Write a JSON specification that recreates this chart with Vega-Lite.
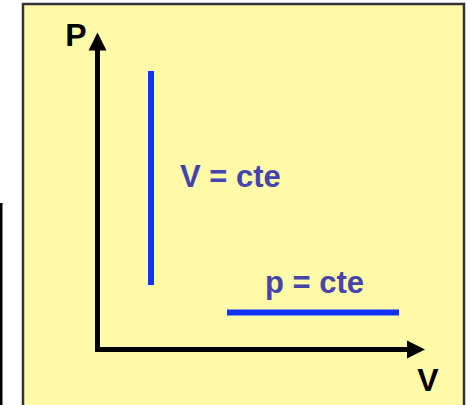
{
  "$schema": "https://vega.github.io/schema/vega-lite/v6.json",
  "width": 469,
  "height": 405,
  "autosize": {"type": "none"},
  "padding": 0,
  "background": "white",
  "config": {"view": {"stroke": null}},
  "encoding": {
    "x": {"type": "quantitative", "scale": {"domain": [0, 469], "nice": false, "zero": false}, "axis": null},
    "y": {"type": "quantitative", "scale": {"domain": [0, 405], "nice": false, "zero": false}, "axis": null}
  },
  "layer": [
    {
      "data": {"values": [{"x": 23, "x2": 464, "y": 401, "y2": -10}]},
      "mark": {"type": "rect", "fill": "#FFFBA8", "stroke": "#333333", "strokeWidth": 2.5, "clip": false},
      "encoding": {"x": {"field": "x"}, "x2": {"field": "x2"}, "y": {"field": "y"}, "y2": {"field": "y2"}}
    },
    {
      "data": {"values": [{"x": 1, "x2": 1, "y": 202, "y2": -5}]},
      "mark": {"type": "rule", "color": "black", "strokeWidth": 3},
      "encoding": {"x": {"field": "x"}, "x2": {"field": "x2"}, "y": {"field": "y"}, "y2": {"field": "y2"}}
    },
    {
      "data": {"values": [
        {"x": 97.5, "x2": 97.5, "y": 57.5, "y2": 357},
        {"x": 95, "x2": 408, "y": 55.5, "y2": 55.5}
      ]},
      "mark": {"type": "rule", "color": "black", "strokeWidth": 5},
      "encoding": {"x": {"field": "x"}, "x2": {"field": "x2"}, "y": {"field": "y"}, "y2": {"field": "y2"}}
    },
    {
      "data": {"values": [{"x": 97.5, "y": 363.5}]},
      "mark": {"type": "point", "shape": "M0,-1L1,1L-1,1Z", "filled": true, "color": "black", "opacity": 1, "size": 324},
      "encoding": {"x": {"field": "x"}, "y": {"field": "y"}}
    },
    {
      "data": {"values": [{"x": 416, "y": 55.5}]},
      "mark": {"type": "point", "shape": "M1,0L-1,-1L-1,1Z", "filled": true, "color": "black", "opacity": 1, "size": 324},
      "encoding": {"x": {"field": "x"}, "y": {"field": "y"}}
    },
    {
      "data": {"values": [
        {"x": 151, "x2": 151, "y": 334, "y2": 120},
        {"x": 227, "x2": 399, "y": 92.5, "y2": 92.5}
      ]},
      "mark": {"type": "rule", "color": "#1133FF", "strokeWidth": 6},
      "encoding": {"x": {"field": "x"}, "x2": {"field": "x2"}, "y": {"field": "y"}, "y2": {"field": "y2"}}
    },
    {
      "data": {"values": [
        {"x": 76, "y": 359, "label": "P"},
        {"x": 428, "y": 14, "label": "V"}
      ]},
      "mark": {"type": "text", "font": "Liberation Sans", "fontWeight": "bold", "fontSize": 32, "color": "black", "align": "center", "baseline": "alphabetic"},
      "encoding": {"x": {"field": "x"}, "y": {"field": "y"}, "text": {"field": "label"}}
    },
    {
      "data": {"values": [
        {"x": 180, "y": 218, "label": "V = cte"},
        {"x": 265, "y": 112, "label": "p = cte"}
      ]},
      "mark": {"type": "text", "font": "Liberation Sans", "fontWeight": "bold", "fontSize": 31, "color": "#4444AA", "align": "left", "baseline": "alphabetic"},
      "encoding": {"x": {"field": "x"}, "y": {"field": "y"}, "text": {"field": "label"}}
    }
  ]
}
